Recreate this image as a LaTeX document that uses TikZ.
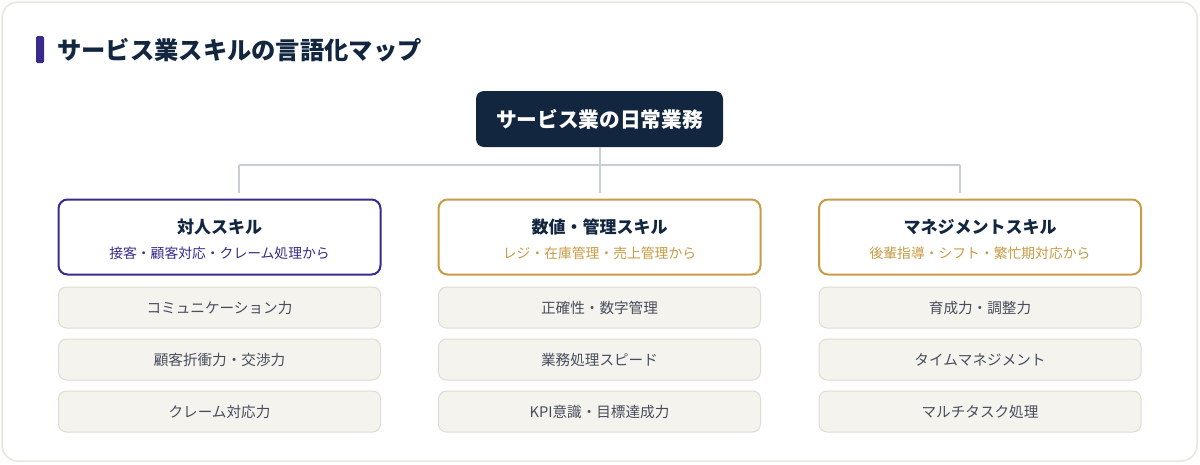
\documentclass[tikz,border=0pt]{standalone}
\usepackage{fontspec}
\setmainfont{Noto Sans CJK JP}
\usetikzlibrary{positioning}
\definecolor{navy}{HTML}{13263F}
\definecolor{purp}{HTML}{3A2A8C}
\definecolor{gold}{HTML}{C89B45}
\definecolor{itemfill}{HTML}{F5F3EE}
\definecolor{itemdraw}{HTML}{DFDCD4}
\definecolor{itemtext}{HTML}{474D5C}
\definecolor{linec}{HTML}{C9CED6}
\definecolor{cardline}{HTML}{E8E6DE}
\tikzset{
  rootbox/.style={fill=navy, rounded corners=8pt, minimum width=247pt, minimum height=56pt, text=white, font=\fontsize{20.7}{24}\selectfont\bfseries, inner sep=0pt},
  catbox/.style={draw=#1, line width=2pt, fill=white, rounded corners=9pt, minimum width=322pt, minimum height=75pt, inner sep=0pt},
  itembox/.style={draw=itemdraw, line width=1pt, fill=itemfill, rounded corners=8pt, minimum width=322pt, minimum height=41pt, text=itemtext, font=\fontsize{14.6}{17}\selectfont, inner sep=0pt},
  cattitle/.style={text=navy, font=\fontsize{17}{20}\selectfont\bfseries},
  catsub/.style={text=#1, font=\fontsize{13.8}{16}\selectfont},
  conn/.style={draw=linec, line width=2pt},
}
\begin{document}
\begin{tikzpicture}[x=1pt,y=-1pt]
\useasboundingbox (0,0) rectangle (1200,464);
\fill[white] (0,0) rectangle (1200,464);
\draw[cardline, line width=1.5pt, rounded corners=16pt] (2,2) rectangle (1197,461);
% title
\fill[purp, rounded corners=1.5pt] (36,36) rectangle (44,63);
\node[anchor=west, text=navy, font=\fontsize{24.3}{28}\selectfont\bfseries, inner sep=0pt] (title) at (57,50) {サービス業スキルの言語化マップ};
% root
\node[rootbox] (root) at (599.5,119) {サービス業の日常業務};
% categories
\node[catbox=purp] (c1) at (219.5,237) {};
\node[catbox=gold] (c2) at (599.5,237) {};
\node[catbox=gold] (c3) at (980,237) {};
\node[cattitle] (c1t) at (219.5,227) {対人スキル};
\node[catsub=purp] (c1s) at (219.5,253) {接客・顧客対応・クレーム処理から};
\node[cattitle] (c2t) at (599.5,227) {数値・管理スキル};
\node[catsub=gold] (c2s) at (599.5,253) {レジ・在庫管理・売上管理から};
\node[cattitle] (c3t) at (980,227) {マネジメントスキル};
\node[catsub=gold] (c3s) at (980,253) {後輩指導・シフト・繁忙期対応から};
% connectors
\coordinate (hub) at (599.5,165);
\coordinate (hl) at (239,165);
\coordinate (hr) at (960,165);
\coordinate (d1) at (239,193);
\coordinate (d2) at (599.5,193);
\coordinate (d3) at (960,193);
\draw[conn] (root.south) -- (hub);
\draw[conn] (hl) -- (hr);
\draw[conn] (hl) -- (d1);
\draw[conn] (hub) -- (d2);
\draw[conn] (hr) -- (d3);
% items
\node[itembox] (i11) at (219.5,307.5) {コミュニケーション力};
\node[itembox] (i12) at (219.5,359.5) {顧客折衝力・交渉力};
\node[itembox] (i13) at (219.5,411.5) {クレーム対応力};
\node[itembox] (i21) at (599.5,307.5) {正確性・数字管理};
\node[itembox] (i22) at (599.5,359.5) {業務処理スピード};
\node[itembox] (i23) at (599.5,411.5) {KPI意識・目標達成力};
\node[itembox] (i31) at (980,307.5) {育成力・調整力};
\node[itembox] (i32) at (980,359.5) {タイムマネジメント};
\node[itembox] (i33) at (980,411.5) {マルチタスク処理};
\end{tikzpicture}
\end{document}
